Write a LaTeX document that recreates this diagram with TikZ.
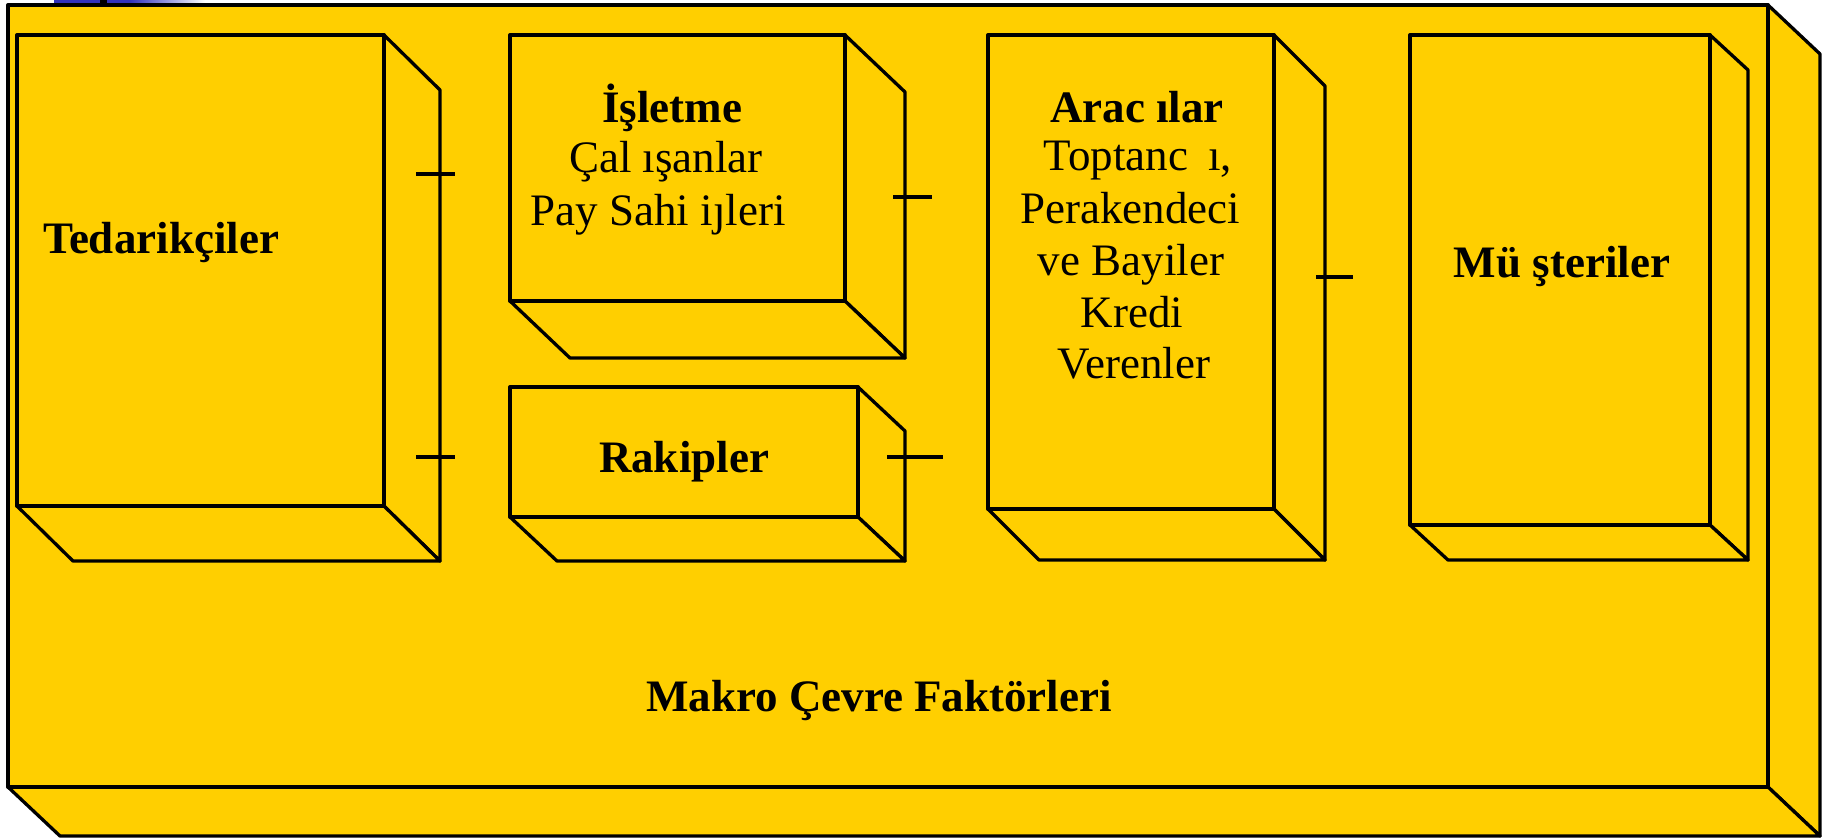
\documentclass[tikz,border=0pt]{standalone}
\usepackage{fontspec}
\setmainfont{Liberation Serif}
\definecolor{gold}{RGB}{255,207,0}
\definecolor{stripblue}{RGB}{51,51,187}
\tikzset{
  face/.style={fill=gold,draw=black,line width=3.3pt,line join=round},
  heading/.style={font=\fontsize{45}{52}\selectfont\bfseries,anchor=base,inner sep=0pt},
  body/.style={font=\fontsize{45}{52}\selectfont,anchor=base,inner sep=0pt},
  tickline/.style={draw=black,line width=3.3pt}
}
\newcommand\cuboid[6]{% x1 y1 x2 y2 dx dy
  \filldraw[face] (#3,#2) -- ++(#5,#6) -- (#3+#5,#4+#6) -- (#3,#4) -- cycle;
  \filldraw[face] (#1,#4) -- ++(#5,#6) -- (#3+#5,#4+#6) -- (#3,#4) -- cycle;
  \filldraw[face] (#1,#2) rectangle (#3,#4);
}
\begin{document}
\begin{tikzpicture}[x=1pt,y=-1pt]
\useasboundingbox (0,0) rectangle (1826,839);
% strip at top
\fill[stripblue] (54,0) rectangle (100,3.5);
\fill[black] (100,0) rectangle (107,4.5);
\fill[stripblue] (107,0) rectangle (130,3.5);
\shade[left color=stripblue,right color=white] (130,0) rectangle (205,3.5);
% outer box
\cuboid{8}{5}{1768}{787}{52}{49}
% inner boxes
\cuboid{17}{35}{384}{506}{56}{55}
\cuboid{510}{35}{845}{301}{60}{57}
\cuboid{510}{387}{858}{517}{47}{44}
\cuboid{988}{35}{1274}{509}{51}{51}
\cuboid{1410}{35}{1710}{525}{38}{35}
% ticks
\coordinate (t1a) at (416,174); \coordinate (t1b) at (455,174);
\coordinate (t2a) at (416,457); \coordinate (t2b) at (455,457);
\coordinate (t3a) at (893,197); \coordinate (t3b) at (932,197);
\coordinate (t4a) at (887,457); \coordinate (t4b) at (943,457);
\coordinate (t5a) at (1316,277); \coordinate (t5b) at (1353,277);
\draw[tickline] (t1a) -- (t1b);
\draw[tickline] (t2a) -- (t2b);
\draw[tickline] (t3a) -- (t3b);
\draw[tickline] (t4a) -- (t4b);
\draw[tickline] (t5a) -- (t5b);
% texts
\node[heading] (ted) at (161,253) {Tedarikçiler};
\node[heading] (isl1) at (672,122) {İşletme};
\node[body] (isl2) at (666,172) {Çal ışanlar};
\node[body] (isl3) at (658,225) {Pay Sahi iȷleri};
\node[heading] (ara1) at (1137,122) {Arac ılar};
\node[body] (ara2) at (1138,170) {Toptanc\hspace{0.45em}ı,};
\node[body] (ara3) at (1130,223) {Perakendeci};
\node[body] (ara4) at (1131,275) {ve Bayiler};
\node[body] (ara5) at (1132,327) {Kredi};
\node[body] (ara6) at (1134,378) {Verenler};
\node[heading] (rak) at (684,472) {Rakipler};
\node[heading] (mus) at (1562,277) {Mü şteriler};
\node[heading] (makro) at (879,711) {Makro Çevre Faktörleri};
\end{tikzpicture}
\end{document}
